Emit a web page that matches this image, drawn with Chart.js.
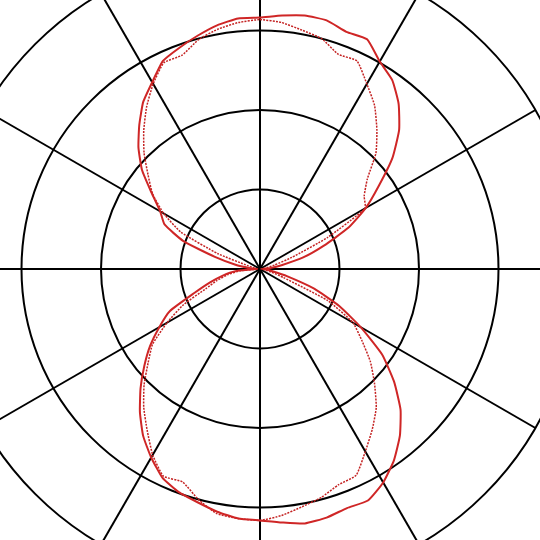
<!DOCTYPE html>
<html>
<head>
<meta charset="utf-8">
<script src="https://cdn.jsdelivr.net/npm/chart.js@4/dist/chart.umd.min.js"></script>
<style>
  html, body { margin: 0; padding: 0; background: #fff; overflow: hidden; width: 540px; height: 540px; }
  #wrap { position: absolute; left: -58px; top: -49px; width: 636px; height: 636px; }
</style>
</head>
<body>
<div id="wrap"><canvas id="polar" width="636" height="636"></canvas></div>
<script>
// angles in degrees, clockwise from top
const angles = [];
for (let a = 0; a < 360; a += 5) angles.push(String(a));

// ring ticks
const ringMax = 320;
const ringStep = 80;

// measured pattern (solid)
const measured = [
  253, 256, 259, 259, 254, 255, 241, 232, 217, 198, 174, 146, 123, 98, 68, 45, 22, 10,
  3, 6, 12, 28, 58, 88, 117, 150, 176, 200, 219, 235, 248, 257, 256, 259, 260, 256,
  253, 252, 248, 243, 239, 232, 219, 205, 188, 170, 152, 135, 117, 100, 70, 52, 38, 25,
  4, 10, 25, 47, 82, 106, 116, 133, 155, 173, 189, 205, 217, 231, 237, 243, 249, 253
];

// simulated pattern (dotted)
const simulated = [
  251, 249, 244, 240, 230, 231, 215, 201, 183, 165, 141, 128, 122, 75, 34, 15, 7, 3,
  1, 3, 5, 12, 25, 75, 108, 125, 145, 163, 182, 197, 212, 229, 231, 238, 243, 249,
  253, 252, 250, 240, 228, 230, 216, 198, 182, 165, 147, 132, 108, 85, 58, 45, 33, 20,
  2, 4, 6, 12, 45, 88, 112, 132, 147, 165, 182, 199, 215, 229, 229, 239, 245, 249
];

const RED = '#cf2626';

new Chart(document.getElementById('polar'), {
  type: 'radar',
  data: {
    labels: angles,
    datasets: [
      {
        label: 'measured',
        data: measured,
        borderColor: RED,
        borderWidth: 2,
        fill: false,
        pointRadius: 0,
        tension: 0.15,
      },
      {
        label: 'simulated',
        data: simulated,
        borderColor: '#c42222',
        borderWidth: 1.5,
        borderDash: [2, 1.2],
        fill: false,
        pointRadius: 0,
        tension: 0.15,
      },
    ],
  },
  options: {
    responsive: false,
    animation: false,
    layout: { padding: 0 },
    plugins: { legend: { display: false }, tooltip: { enabled: false } },
    scales: {
      r: {
        min: 0,
        max: ringMax,
        ticks: { display: false, stepSize: ringStep },
        grid: { circular: true, color: '#000', lineWidth: 2 },
        angleLines: {
          color: '#000',
          lineWidth: (ctx) => (ctx.index % 6 === 0 ? 2 : 0),
        },
        pointLabels: { display: false },
      },
    },
  },
});
</script>
</body>
</html>
